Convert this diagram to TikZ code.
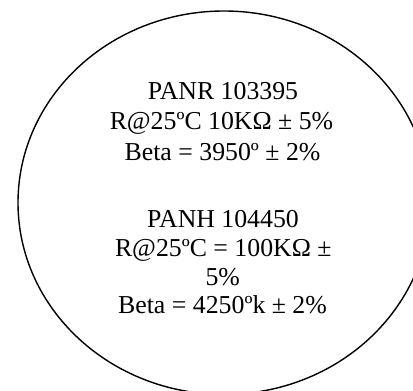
\documentclass[tikz,border=0pt]{standalone}
\usepackage{fontspec}
\setmainfont{Liberation Serif}
\begin{document}
\begin{tikzpicture}[x=1pt,y=1pt,
  txt/.style={anchor=base,inner sep=0pt,font=\fontsize{25.8}{31}\selectfont},
  oval/.style={draw=black,line width=1.4pt}]
\useasboundingbox (0,0) rectangle (413,391);
\clip (0,0) rectangle (413,391);
\fill[white] (0,0) rectangle (413,391);
\draw[oval] (224,188.3) ellipse [x radius=206, y radius=191.7];
\node[txt] (l1) at (223,391-99.3) {PANR 103395};
\node[txt] (l2) at (221.5,391-130) {R@25ºC 10KΩ ± 5\%};
\node[txt] (l3) at (222.5,391-160.7) {Beta = 3950º ± 2\%};
\node[txt] (l4) at (223,391-227.3) {PANH 104450};
\node[txt] (l5) at (223.3,391-256.7) {R@25ºC = 100KΩ ±};
\node[txt] (l6) at (222.7,391-285.5) {5\%};
\node[txt] (l7) at (222.5,391-314) {Beta = 4250ºk ± 2\%};
\end{tikzpicture}
\end{document}
